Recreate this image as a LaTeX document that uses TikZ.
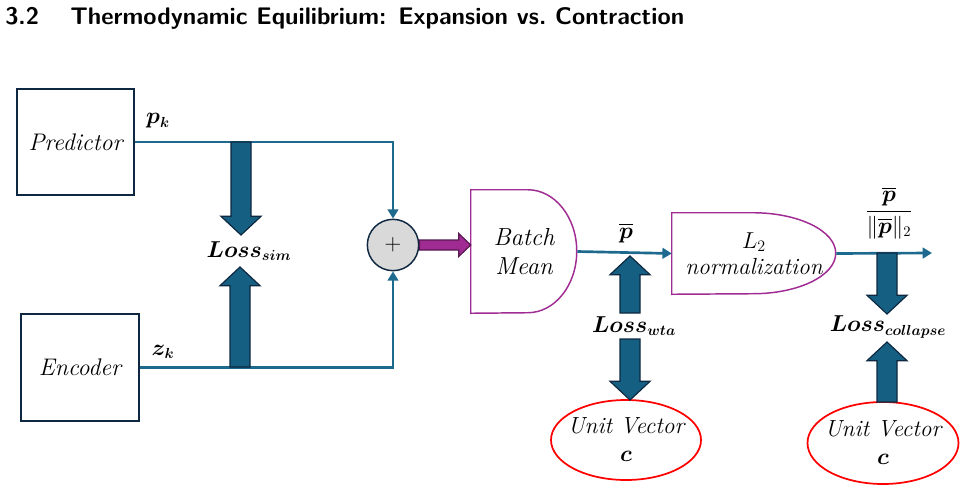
\documentclass[tikz,border=0pt]{standalone}
\usepackage{amsmath,amssymb}
\usepackage{xcolor}
\usepackage{tikz}
\usetikzlibrary{shapes.geometric,arrows.meta,positioning,calc}
\definecolor{wireblue}{HTML}{1D6A8E}
\definecolor{fatblue}{HTML}{156082}
\definecolor{navyline}{HTML}{0E2841}
\definecolor{mauve}{HTML}{A02B93}
\tikzset{
  box/.style      = {rectangle, draw=navyline, line width=1.1pt, fill=white,
                     font=\fontsize{18}{21}\selectfont\itshape, inner sep=0pt},
  gate/.style     = {rectangle, inner sep=0pt, align=center,
                     font=\fontsize{18.5}{21.75}\selectfont\itshape},
  gateline/.style = {draw=mauve, line width=1.1pt},
  unitv/.style    = {ellipse, draw=red, line width=1.3pt, fill=white, align=center, inner sep=-12pt,
                     minimum width=112.5pt, minimum height=60pt,
                     font=\fontsize{17.5}{21}\selectfont\itshape},
  summ/.style     = {circle, draw=navyline, line width=1.1pt, fill=black!15,
                     minimum size=38.5pt, inner sep=0pt, font=\fontsize{18}{18}\selectfont},
  wire/.style     = {draw=wireblue, line width=2pt},
  wirea/.style    = {wire, -{Triangle[length=7pt,width=8pt]}},
  lbl/.style      = {inner sep=0pt, font=\fontsize{16}{19}\selectfont},
  fat/.style n args = {3}{to path={let \p1=(\tikztostart), \p2=(\tikztotarget) in
      let \p3=($(\p2)!#3!(\p1)$) in
      ($(\p1)!#1!90:(\p2)$) -- ($(\p3)!#1!90:(\p2)$) -- ($(\p3)!#2!90:(\p2)$) -- (\p2)
      -- ($(\p3)!#2!-90:(\p2)$) -- ($(\p3)!#1!-90:(\p2)$) -- ($(\p1)!#1!-90:(\p2)$) -- cycle}},
  bigarrow/.style = {draw=navyline, fill=fatblue, line width=0.9pt, fat={7.5pt}{15pt}{14pt}},
  mixarrow/.style = {draw=mauve!55!black, fill=mauve, line width=0.9pt, fat={3.75pt}{8.6pt}{9pt}},
}

\begin{document}
\begin{tikzpicture}[x=0.75pt, y=-0.75pt]
  \useasboundingbox (0,0) rectangle (966,492);

  \node[font=\fontsize{18}{19}\selectfont\sffamily\bfseries, anchor=base west, inner sep=0pt] (title) at (5,25)
    {3.2\hspace{23.5pt}Thermodynamic Equilibrium: Expansion vs.\ Contraction};

  \node[box, minimum width=87.75pt, minimum height=79.5pt] (pred) at (75.5,142) {Predictor};
  \node[box, minimum width=88.5pt, minimum height=80.25pt] (enc) at (80,367.5) {Encoder};
  \node[summ] (sum) at (393,245) {$+$};
  \node[gate, minimum width=79.5pt, minimum height=92.25pt] (bmean) at (524,251.5) {Batch\\Mean};
  \node[gate, font=\fontsize{17.5}{19.5}\selectfont\itshape, minimum width=123pt, minimum height=60.75pt] (norm) at (754,253.5) {$L_2$\\normalization};
  \node[unitv] (uv1) at (626,440) {Unit Vector\\$\boldsymbol{c}$};
  \node[unitv, minimum width=113.25pt, minimum height=61.5pt] (uv2) at (883,443) {Unit Vector\\$\boldsymbol{c}$};

  \node[lbl] (pk) at (158,121) {$\boldsymbol{p_k}$};
  \node[lbl] (zk) at (163,352) {$\boldsymbol{z_k}$};
  \node[lbl] (lsim) at (249,251) {$\boldsymbol{Loss_{sim}}$};
  \node[lbl] (pbar) at (626,233) {$\overline{\boldsymbol{p}}$};
  \node[lbl] (lwta) at (634,326) {$\boldsymbol{Loss_{wta}}$};
  \node[lbl] (pnorm) at (889,213) {$\dfrac{\overline{\boldsymbol{p}}}{\|\overline{\boldsymbol{p}}\|_2}$};
  \node[lbl] (lcol) at (888,327) {$\boldsymbol{Loss_{collapse}}$};

  \draw[gateline] (bmean.south west) -- (bmean.north west) -- ++(57,0)
    arc[start angle=90, end angle=-90, x radius=36.75pt, y radius=46.125pt] -- cycle;
  \draw[gateline] (norm.south west) -- (norm.north west) -- ++(81,0)
    arc[start angle=90, end angle=-90, x radius=62.25pt, y radius=30.375pt] -- cycle;

  \coordinate (psplit) at (241,142);
  \coordinate (simtop) at (241,235);
  \coordinate (zsplit) at (240,367);
  \coordinate (simbot) at (240,267);
  \coordinate (wtaup)  at (630,256);
  \coordinate (wtatop) at (630,313);
  \coordinate (wtabot) at (630,339);
  \coordinate (uv1top) at (630,400);
  \coordinate (nsplit) at (887,253);
  \coordinate (coltop) at (887,314);
  \coordinate (colbot) at (887,342);
  \coordinate (uv2top) at (887,402);
  \coordinate (out)    at (932,253);
  \coordinate (bin)    at (sum.east -| bmean.west);

  \draw[wirea] (pred.east) -| (sum.north);
  \draw[wirea] (enc.east) -| (sum.south);
  \draw[wirea] (bmean.east) -- (norm.west);
  \draw[wirea] (norm.east) -- (out);
  \draw[bigarrow] (psplit) to (simtop);
  \draw[bigarrow] (zsplit) to (simbot);
  \draw[bigarrow] (wtatop) to (wtaup);
  \draw[bigarrow] (wtabot) to (uv1top);
  \draw[bigarrow] (nsplit) to (coltop);
  \draw[bigarrow] (uv2top) to (colbot);
  \draw[mixarrow] (sum.east) to (bin);

\end{tikzpicture}
\end{document}
